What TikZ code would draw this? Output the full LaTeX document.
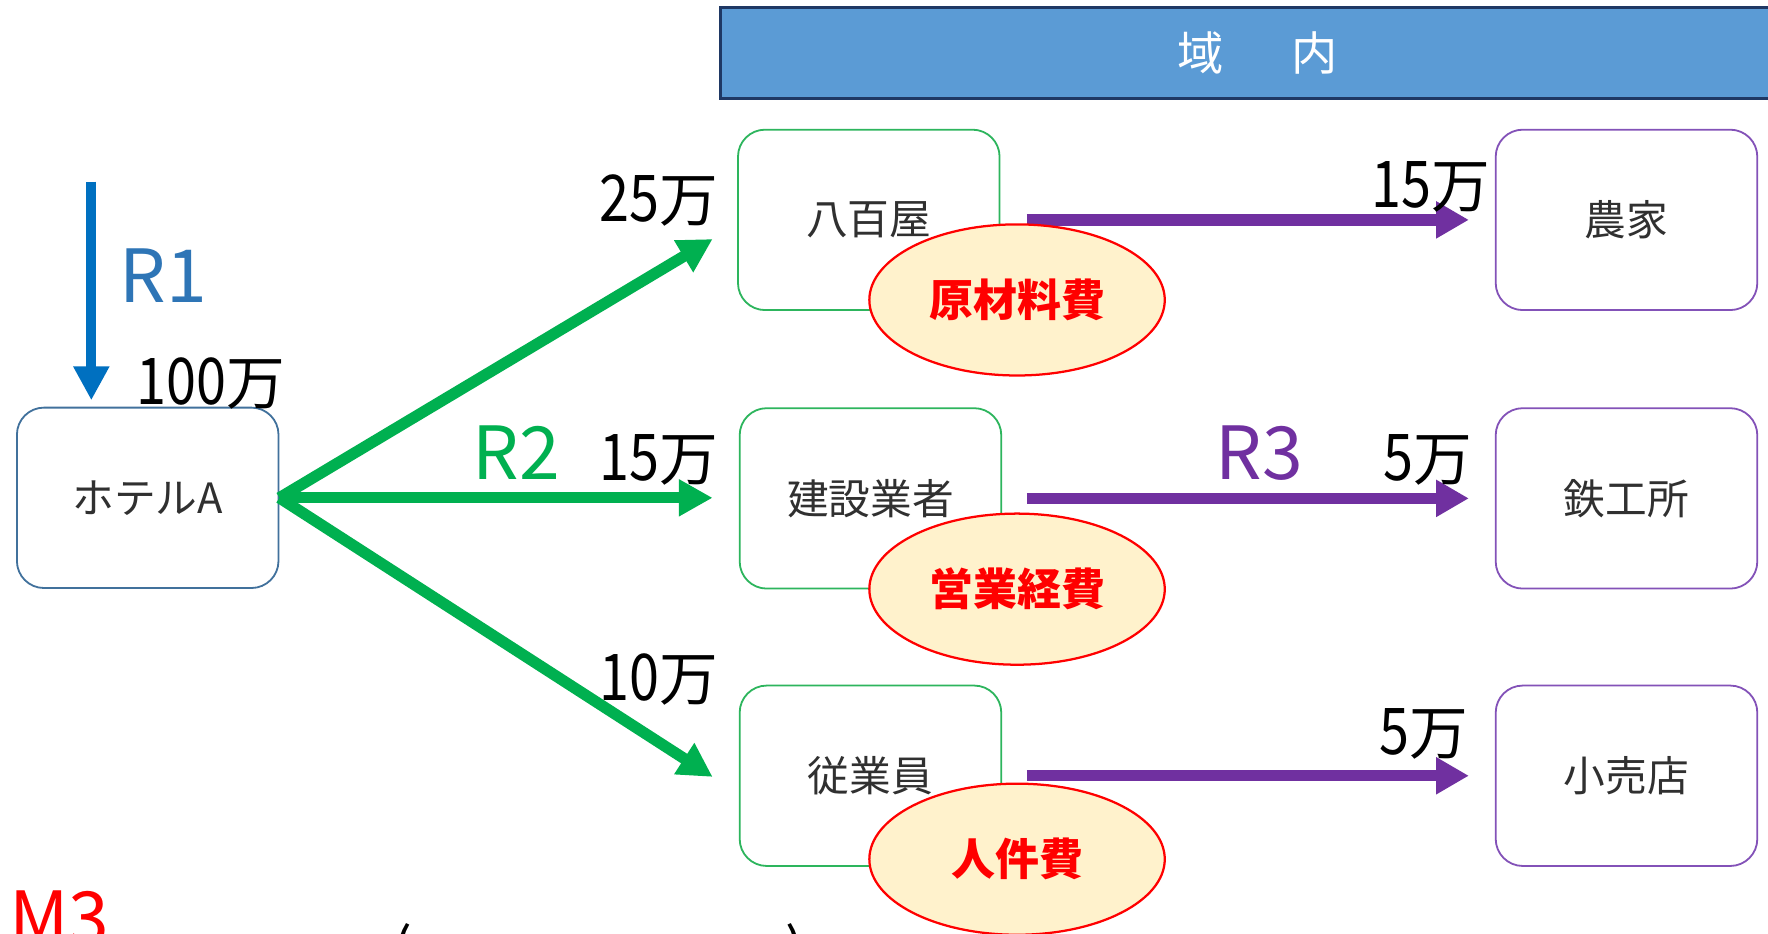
\documentclass[tikz,border=0pt]{standalone}
\usepackage{graphicx}
\usepackage{fontspec}
\setmainfont{Noto Sans CJK JP}
\usetikzlibrary{arrows.meta,shapes.geometric}
\definecolor{bannerfill}{HTML}{5B9BD5}
\definecolor{bannerline}{HTML}{1F3864}
\definecolor{hotelline}{HTML}{41719C}
\definecolor{arrblue}{HTML}{0070C0}
\definecolor{labblue}{HTML}{2E75B6}
\definecolor{arrgreen}{HTML}{00B050}
\definecolor{boxgreen}{HTML}{2DB55D}
\definecolor{arrpurple}{HTML}{7030A0}
\definecolor{boxpurple}{HTML}{8352B8}
\definecolor{costfill}{HTML}{FFF2CC}
\definecolor{costred}{HTML}{FF0000}
\definecolor{txt}{HTML}{303030}
\newcommand\myfs[1]{\fontsize{#1pt}{#1pt}\selectfont}
\newcommand\dg[1]{\scalebox{0.92}[1.1]{#1}}
\tikzset{
  hbox/.style={draw=hotelline, line width=1.6pt, rounded corners=24pt,
    minimum width=232pt, minimum height=160pt, fill=white, inner sep=0pt,
    font=\myfs{37}, text=txt},
  gbox/.style={hbox, draw=boxgreen},
  pbox/.style={hbox, draw=boxpurple},
  cost/.style={ellipse, draw=costred, fill=costfill, line width=2pt,
    minimum width=262pt, minimum height=134pt, inner sep=0pt,
    font=\myfs{39}\bfseries, text=costred},
  garrow/.style={draw=arrgreen, line width=10pt, -{Triangle[length=30pt,width=31pt]}},
  parrow/.style={draw=arrpurple, line width=10pt, -{Triangle[length=29pt,width=31pt]}},
  barrow/.style={draw=arrblue, line width=9pt, -{Triangle[length=30pt,width=30pt]}},
  amt/.style={anchor=base, inner sep=0pt, font=\myfs{52}, text=black},
  rlab/.style={anchor=base, inner sep=0pt, font=\myfs{65}},
  banner/.style={draw=bannerline, fill=bannerfill, line width=2.5pt, inner sep=0pt,
    text=white, font=\myfs{41}},
}
\begin{document}
\begin{tikzpicture}[x=1pt,y=-1pt]
\useasboundingbox (0,0) rectangle (1568,828);
\clip (0,0) rectangle (1568,828);
\fill[white] (0,0) rectangle (1568,828);

% banner
\node[banner, minimum width=952pt, minimum height=80pt] (band) at (1115,47) {域\hspace{60pt}内};

% boxes
\node[hbox] (hotel) at (131,441.5) {ホテルA};
\node[gbox] (yao) at (770.5,195) {八百屋};
\node[gbox] (ken) at (772,442) {建設業者};
\node[gbox] (emp) at (772,688) {従業員};
\node[pbox] (farm) at (1442.5,195) {農家};
\node[pbox] (iron) at (1442.5,442) {鉄工所};
\node[pbox] (shop) at (1442.5,688) {小売店};

% arrows
\coordinate (b0) at (81,161);
\coordinate (b1) at (81,355);
\draw[barrow] (b0) -- (b1);

\coordinate (g1) at (632,212);
\coordinate (g2) at (632,441.5);
\coordinate (g3) at (632,689);
\draw[garrow] (hotel.east) -- (g1);
\draw[garrow] (hotel.east) -- (g2);
\draw[garrow] (hotel.east) -- (g3);

\draw[parrow, shorten <=23.5pt, shorten >=23pt] (yao.east) -- (farm.west);
\draw[parrow, shorten <=22pt, shorten >=23pt] (ken.east) -- (iron.west);
\draw[parrow, shorten <=22pt, shorten >=23pt] (emp.east) -- (shop.west);

% cost ellipses
\node[cost] (c1) at (902,266) {原材料費};
\node[cost] (c2) at (902,522.5) {営業経費};
\node[cost] (c3) at (902,762) {人件費};

% labels
\node[rlab, text=labblue] (r1) at (145,268) {R1};
\node[amt] (a100) at (187,359) {\dg{100}万};
\node[rlab, text=arrgreen] (r2) at (458,425) {R2};
\node[amt] (a25) at (584,196) {\dg{25}万};
\node[amt] (a15) at (584,426) {\dg{15}万};
\node[amt] (a10) at (584,621) {\dg{10}万};
\node[amt] (b15) at (1269,184) {\dg{15}万};
\node[rlab, text=arrpurple] (r3) at (1117,425) {R3};
\node[amt] (b5a) at (1266,426) {\dg{5}万};
\node[amt] (b5b) at (1263,669) {\dg{5}万};

% bottom (cut off)
\node[rlab, anchor=base west, text=costred] (m3) at (8,838) {M3};
\node[amt, anchor=base west] (pl) at (348,862) {(};
\node[amt, anchor=base east] (pr) at (714,862) {)};
\end{tikzpicture}
\end{document}
